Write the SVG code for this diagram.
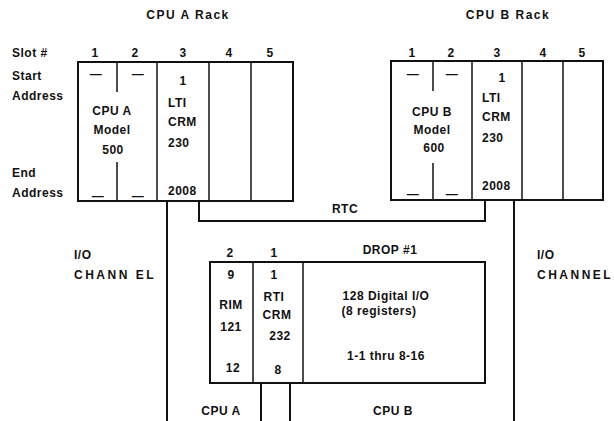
<svg xmlns="http://www.w3.org/2000/svg" width="614" height="421" viewBox="0 0 614 421">
<style>
text{font-family:"Liberation Sans",Arial,sans-serif;font-size:12px;font-weight:bold;fill:#111;letter-spacing:0.5px}
.m{text-anchor:middle}
.h{letter-spacing:1.5px}
.w{letter-spacing:2.5px}
.box{fill:none;stroke:#111;stroke-width:2}
.ln{fill:none;stroke:#111;stroke-width:2}
.thin{fill:none;stroke:#111;stroke-width:1.5}
</style>
<rect width="614" height="421" fill="#fff"/>
<g id="labels">
<text x="12" y="57">Slot #</text>
<text x="12" y="80">Start</text>
<text x="12" y="100">Address</text>
<text x="12" y="177">End</text>
<text x="12" y="197">Address</text>
<text x="74" y="259">I/O</text>
<text class="w" x="74" y="279">CHANN EL</text>
<text x="537" y="259">I/O</text>
<text class="w" x="537" y="279">CHANNEL</text>
</g>
<g id="rackA">
<text class="m h" x="188" y="19">CPU A Rack</text>
<text class="m" x="95" y="57">1</text>
<text class="m" x="135" y="57">2</text>
<text class="m" x="183" y="57">3</text>
<text class="m" x="229" y="57">4</text>
<text class="m" x="270" y="57">5</text>
<rect class="box" x="78" y="62" width="215" height="139"/>
<line class="thin" x1="117" y1="62" x2="117" y2="92"/>
<line class="thin" x1="117" y1="162" x2="117" y2="201"/>
<line class="thin" x1="157" y1="62" x2="157" y2="201"/>
<line class="thin" x1="209" y1="62" x2="209" y2="201"/>
<line class="thin" x1="251" y1="62" x2="251" y2="201"/>
<text class="m" x="96" y="78">—</text>
<text class="m" x="138" y="78">—</text>
<text class="m" x="98" y="200">—</text>
<text class="m" x="138" y="200">—</text>
<text class="m" x="112" y="115">CPU A</text>
<text class="m" x="112" y="134">Model</text>
<text class="m" x="113" y="154">500</text>
<text class="m" x="183" y="85">1</text>
<text x="168" y="107">LTI</text>
<text x="168" y="126">CRM</text>
<text x="168" y="147">230</text>
<text x="168" y="195">2008</text>
</g>
<g id="rackB">
<text class="m h" x="508" y="19">CPU B Rack</text>
<text class="m" x="412" y="57">1</text>
<text class="m" x="451" y="57">2</text>
<text class="m" x="497" y="57">3</text>
<text class="m" x="543" y="57">4</text>
<text class="m" x="582" y="57">5</text>
<rect class="box" x="391" y="61" width="212" height="139"/>
<line class="thin" x1="433" y1="61" x2="433" y2="91"/>
<line class="thin" x1="433" y1="163" x2="433" y2="200"/>
<line class="thin" x1="472" y1="61" x2="472" y2="200"/>
<line class="thin" x1="522" y1="61" x2="522" y2="200"/>
<line class="thin" x1="563" y1="61" x2="563" y2="200"/>
<text class="m" x="413" y="78">—</text>
<text class="m" x="452" y="78">—</text>
<text class="m" x="413" y="198">—</text>
<text class="m" x="452" y="198">—</text>
<text class="m" x="432" y="116">CPU B</text>
<text class="m" x="432" y="134">Model</text>
<text class="m" x="434" y="152">600</text>
<text class="m" x="502" y="82">1</text>
<text x="482" y="102">LTI</text>
<text x="482" y="121">CRM</text>
<text x="482" y="142">230</text>
<text x="482" y="190">2008</text>
</g>
<g id="drop">
<text class="m" x="230" y="257">2</text>
<text class="m" x="274" y="257">1</text>
<text class="m" x="390" y="254">DROP #1</text>
<rect class="box" x="210" y="262" width="275" height="121"/>
<line class="thin" x1="253" y1="262" x2="253" y2="383"/>
<line class="thin" x1="303" y1="262" x2="303" y2="383"/>
<text class="m" x="231" y="279">9</text>
<text class="m" x="231" y="309">RIM</text>
<text class="m" x="231" y="331">121</text>
<text class="m" x="233" y="372">12</text>
<text class="m" x="274" y="279">1</text>
<text class="m" x="274" y="301">RTI</text>
<text class="m" x="277" y="319">CRM</text>
<text class="m" x="280" y="340">232</text>
<text class="m" x="278" y="374">8</text>
<text class="m" x="386" y="300">128 Digital I/O</text>
<text class="m" x="379" y="315">(8 registers)</text>
<text class="m" x="386" y="360">1-1 thru 8-16</text>
</g>
<g id="connectors">
<line class="ln" x1="167" y1="201" x2="167" y2="421"/>
<polyline class="ln" points="199,201 199,221 485,221 485,200"/>
<line class="ln" x1="514" y1="200" x2="514" y2="421"/>
<line class="ln" x1="261" y1="383" x2="261" y2="421"/>
<line class="ln" x1="290" y1="383" x2="290" y2="421"/>
<text class="m" x="345" y="213">RTC</text>
<text class="m" x="221" y="415">CPU A</text>
<text class="m" x="393" y="415">CPU B</text>
</g>
</svg>
